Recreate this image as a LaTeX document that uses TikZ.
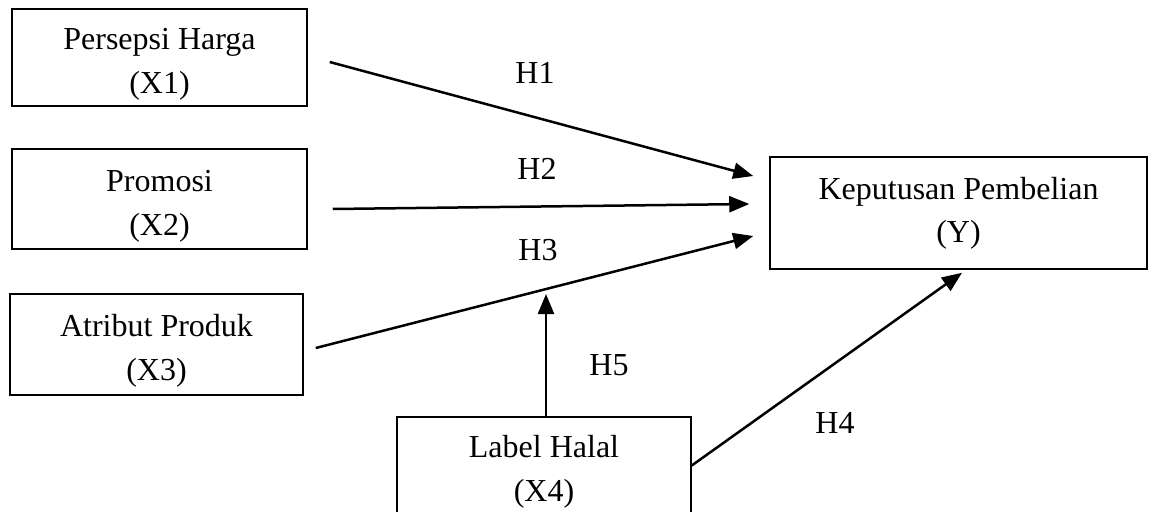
\documentclass[tikz,border=0pt]{standalone}
\usepackage{fontspec}
\setmainfont{Liberation Serif}
\usetikzlibrary{arrows.meta,calc}
\newcommand{\tallstrut}{\rule{0pt}{35pt}}
\begin{document}
\begin{tikzpicture}[x=1pt,y=-1pt,
  box/.style={draw,line width=1.5pt,align=center,inner sep=0pt,font=\fontsize{32}{44}\selectfont},
  arr/.style={line width=2.5pt,-{Triangle[length=20pt,width=16pt]}},
  lbl/.style={inner sep=0pt,font=\fontsize{32}{38}\selectfont}]
\useasboundingbox (0,0) rectangle (1150,511);
\clip (0,0) rectangle (1150,511);
\node[box,minimum width=295pt,minimum height=97pt] (x1) at (159.5,57.5) {\tallstrut Persepsi Harga\\(X1)};
\node[box,minimum width=295pt,minimum height=100pt] (x2) at (159.5,199) {\tallstrut Promosi\\(X2)};
\node[box,minimum width=293pt,minimum height=101pt] (x3) at (156.5,344.5) {\tallstrut Atribut Produk\\(X3)};
\node[box,minimum width=377pt,minimum height=112pt,font=\fontsize{32}{43}\selectfont] (y) at (958.5,213) {Keputusan Pembelian\\(Y)};
\node[box,minimum width=294pt,minimum height=97pt] (lh) at (544,465.5) {\tallstrut Label Halal\\(X4)};
% connector end points
\coordinate (s1) at ($(x1.east)+(22,4.5)$);
\coordinate (t1) at ($(y.west)+(-16,-37)$);
\coordinate (s2) at ($(x2.east)+(25,10)$);
\coordinate (t2) at ($(y.west)+(-20,-9)$);
\coordinate (s3) at ($(x3.east)+(12,3.5)$);
\coordinate (t3) at ($(y.west)+(-16,23)$);
\coordinate (s5) at ($(lh.north)+(2,0)$);
\coordinate (t5) at (546,294);
\coordinate (t4) at ($(y.south)+(3.5,3)$);
\draw[arr] (s1) -- (t1);
\draw[arr] (s2) -- (t2);
\draw[arr] (s3) -- (t3);
\draw[arr] (s5) -- (t5);
\draw[arr] (lh.east) -- (t4);
\node[lbl] (h1) at (535,73) {H1};
\node[lbl] (h2) at (537,169) {H2};
\node[lbl] (h3) at (538,250) {H3};
\node[lbl] (h5) at (609,365) {H5};
\node[lbl] (h4) at (835,423) {H4};
\end{tikzpicture}
\end{document}
